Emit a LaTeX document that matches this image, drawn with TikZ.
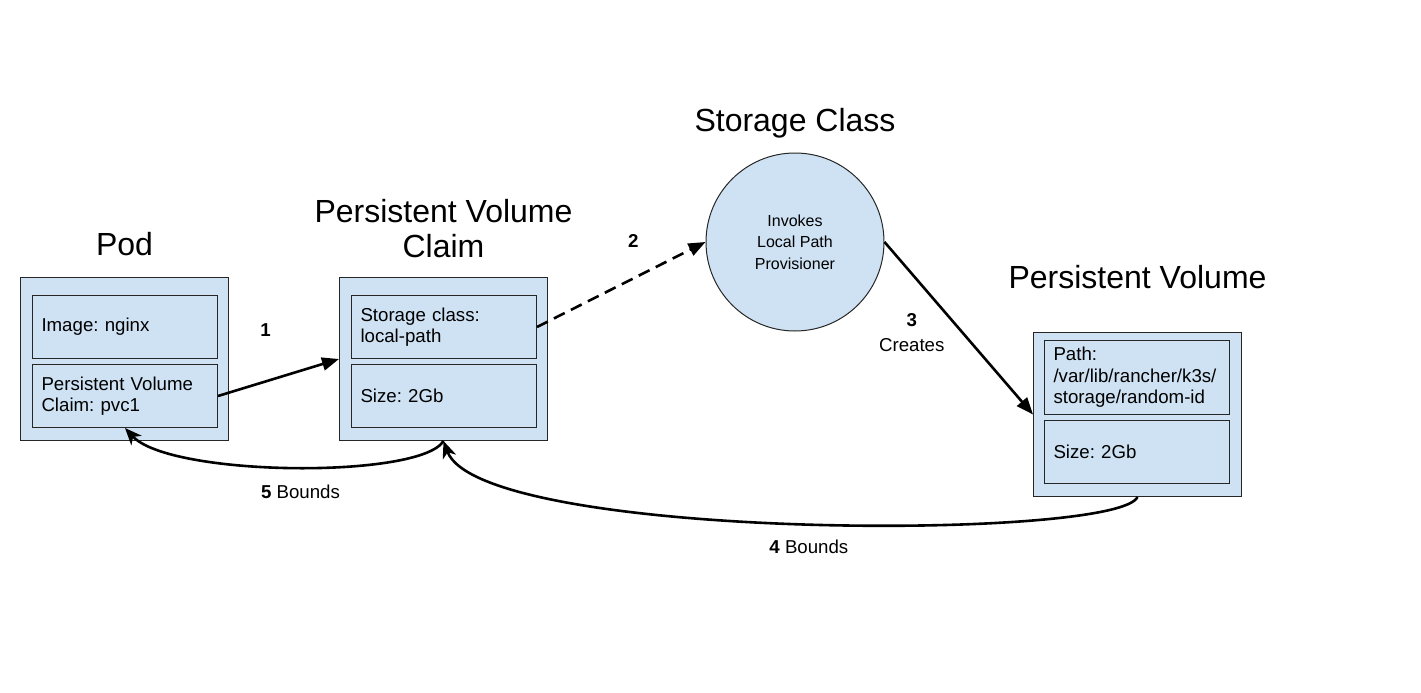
\documentclass[tikz,border=0pt]{standalone}
\usepackage{fontspec}
\setmainfont{Liberation Sans}
\frenchspacing
\usetikzlibrary{positioning,arrows.meta}
\definecolor{kblue}{HTML}{CFE2F3}

\begin{document}
\begin{tikzpicture}[
    x=1pt, y=-1pt,
    font=\fontsize{18.67}{21.5}\selectfont,
    >={Triangle[length=17pt,width=13pt]},
    outerbox/.style={draw=black!85, line width=1pt, fill=kblue,
                     anchor=north west, minimum width=208pt, inner sep=0pt},
    innerbox/.style={draw=black!85, line width=1pt, fill=kblue,
                     minimum height=63pt, text width=167pt,
                     inner xsep=9pt, inner ysep=0pt, align=left},
    title/.style={font=\fontsize{32}{35}\selectfont, inner sep=0pt, align=center},
    lbl/.style={font=\fontsize{18.67}{25}\selectfont, inner sep=0pt, align=center},
    arr/.style={->, line width=2.6pt},
    bendarr/.style={-{Stealth[length=17pt,width=14pt,inset=5pt]}, line width=2.6pt},
]
\useasboundingbox (0,0) rectangle (1421,693);

% =========================================================
% Pod
% =========================================================
\node[outerbox, minimum height=163pt] (pod) at (20,277) {};
\node[innerbox, below right=18pt and 12pt of pod.north west] (podimg)
    {Image: nginx};
\node[innerbox, below=5pt of podimg] (podpvc)
    {Persistent Volume\\Claim: pvc1};
\node[title, above=22pt of pod.north, anchor=base] (podlbl) {Pod};

% =========================================================
% Persistent volume claim
% =========================================================
\node[outerbox, minimum height=163pt] (pvc) at (339,277) {};
\node[innerbox, below right=18pt and 12pt of pvc.north west] (pvcsc)
    {Storage class:\\local-path};
\node[innerbox, below=5pt of pvcsc] (pvcsz) {Size: 2Gb};
\node[title, above=19pt of pvc.north, anchor=south] (pvclbl)
    {Persistent Volume\\Claim};

% =========================================================
% Storage class
% =========================================================
\node[circle, draw=black!85, line width=1pt, fill=kblue,
      minimum size=178pt, inner sep=0pt, align=center,
      font=\fontsize{16}{21.5}\selectfont] (sc) at (795,242)
    {Invokes\\Local Path\\Provisioner};
\node[title, above=21pt of sc.north, anchor=base] (sclbl) {Storage Class};

% =========================================================
% Persistent volume
% =========================================================
\node[outerbox, minimum height=164pt] (pv) at (1033,332) {};
\node[innerbox, minimum height=74pt,
      below right=8pt and 11pt of pv.north west] (pvpath)
    {Path:\\/var/lib/rancher/k3s/\\storage/random-id};
\node[innerbox, below=5pt of pvpath] (pvsz) {Size: 2Gb};
\node[title, above=44pt of pv.north, anchor=base] (pvlbl) {Persistent Volume};

% =========================================================
% Connectors
% =========================================================
\draw[arr] (podpvc.east) --
    node[lbl, midway, xshift=-13pt, yshift=47.5pt] (lblone) {\textbf{1}}
    (pvc.west);
\draw[arr, dash pattern=on 12pt off 7pt] (pvcsc.east) --
    node[lbl, midway, xshift=12pt, yshift=44pt] (lbltwo) {\textbf{2}}
    (sc.west);
\draw[arr] (sc.east) --
    node[lbl, midway, xshift=-47pt, yshift=-4.5pt] (lblthree)
        {\textbf{3}\\Creates}
    (pv.west);

% bound back: volume -> claim -> pod
\draw[bendarr] (pv.south) .. controls +(-20,44) and +(37,100) ..
    node[lbl, midway, xshift=12pt, yshift=-24pt] (lblfour) {\textbf{4} Bounds}
    (pvc.south);
\draw[bendarr] (pvc.south) .. controls +(-23,38) and +(45,49) ..
    node[lbl, midway, xshift=8pt, yshift=-24.5pt] (lblfive) {\textbf{5} Bounds}
    (podpvc.south);

\end{tikzpicture}
\end{document}
